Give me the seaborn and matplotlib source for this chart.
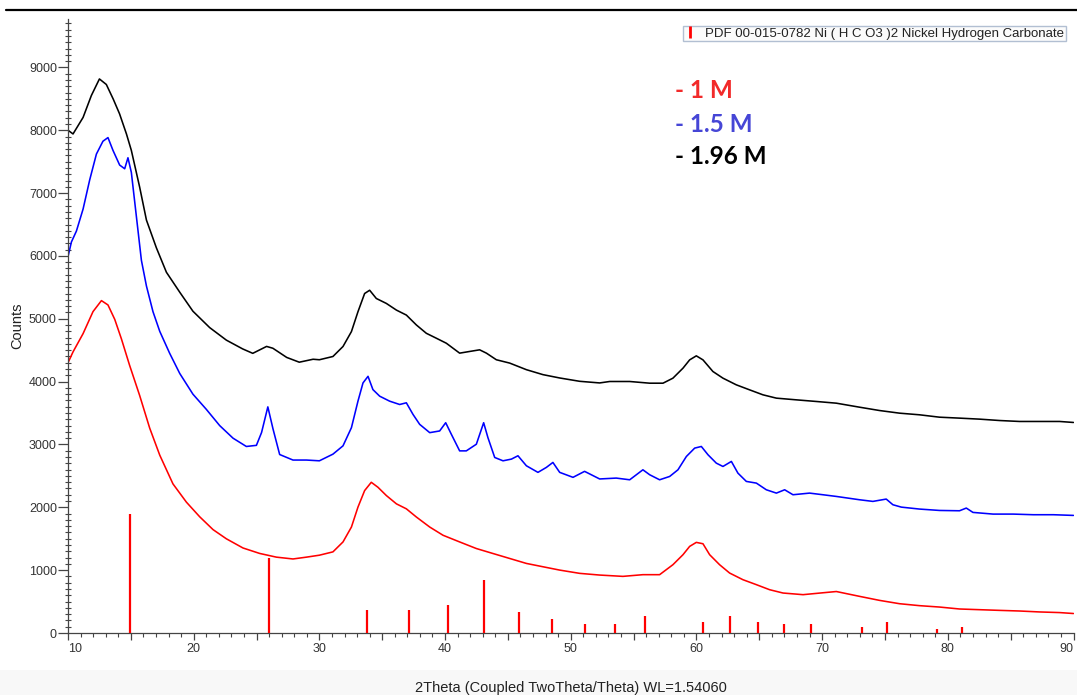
import matplotlib
matplotlib.use("Agg")
import matplotlib.pyplot as plt
import seaborn as sns
from matplotlib.lines import Line2D
from matplotlib.patches import Rectangle
from matplotlib.ticker import MultipleLocator, FuncFormatter

# ---------------- data ----------------
bk_t = [10.0, 10.4, 11.2, 11.86, 12.5, 13.05, 13.6, 14.1, 14.65, 15.04, 15.7, 16.24, 17.03, 17.83, 18.9,
        19.94, 21.27, 22.6, 23.9, 24.7, 25.8, 26.3, 27.4, 28.4, 29.5, 30.0, 31.08, 31.88, 32.55, 33.07,
        33.6, 34.0, 34.53, 35.33, 36.13, 36.92, 37.72, 38.51, 39.31, 40.1, 41.16, 41.96, 42.75, 43.29,
        44.08, 45.14, 46.47, 47.79, 49.12, 50.71, 52.3, 53.1, 54.69, 56.28, 57.34, 58.13, 58.93, 59.46,
        59.99, 60.52, 61.31, 62.11, 63.17, 64.23, 65.29, 66.36, 67.95, 69.54, 71.13, 72.98, 74.57, 76.16,
        77.75, 79.34, 80.93, 82.52, 84.12, 85.71, 87.3, 88.89, 90.0]
bk_v = [8000, 7941, 8204, 8553, 8816, 8728, 8495, 8262, 7941, 7679, 7096, 6571, 6130, 5740, 5420,
        5120, 4860, 4660, 4520, 4450, 4560, 4531, 4385, 4309, 4356, 4348, 4400, 4559, 4796, 5112,
        5402, 5454, 5323, 5244, 5138, 5059, 4901, 4769, 4690, 4611, 4453, 4480, 4506, 4453,
        4348, 4295, 4190, 4111, 4058, 4005, 3979, 4002, 4002, 3975, 3975, 4055, 4214, 4346,
        4410, 4346, 4161, 4055, 3949, 3869, 3790, 3737, 3710, 3684, 3657, 3593, 3540, 3498,
        3472, 3434, 3419, 3403, 3381, 3366, 3366, 3366, 3350]

bl_t = [10.0, 10.27, 10.67, 11.2, 11.73, 12.26, 12.78, 13.18, 13.58, 14.11, 14.51, 14.77, 15.04, 15.44,
        15.84, 16.24, 16.76, 17.3, 18.09, 18.89, 19.94, 21.0, 22.07, 23.13, 24.19, 24.99, 25.4, 25.9,
        26.31, 26.84, 27.9, 28.97, 30.0, 31.08, 31.88, 32.55, 33.07, 33.47, 33.87, 34.26, 34.8, 35.59,
        36.39, 36.92, 37.45, 37.98, 38.78, 39.57, 40.05, 40.5, 41.16, 41.69, 42.49, 43.07, 43.41, 43.95,
        44.61, 45.28, 45.8, 46.47, 47.39, 48.06, 48.58, 49.12, 50.18, 51.1, 52.3, 53.62, 54.69, 55.74,
        56.28, 57.07, 57.87, 58.53, 59.2, 59.86, 60.39, 60.92, 61.58, 62.11, 62.78, 63.3, 63.97, 64.77,
        65.56, 66.36, 67.02, 67.68, 69.0, 70.06, 71.13, 72.98, 74.04, 75.1, 75.63, 76.3, 77.75, 79.34,
        80.93, 81.47, 82.0, 83.6, 85.2, 86.8, 88.4, 90.0]
bl_v = [5988, 6221, 6396, 6746, 7213, 7621, 7825, 7883, 7679, 7446, 7387, 7562, 7329, 6629,
        5930, 5522, 5114, 4800, 4450, 4130, 3800, 3560, 3300, 3100, 2968, 2986, 3190, 3598,
        3248, 2840, 2752, 2752, 2740, 2846, 2978, 3267, 3689, 3979, 4084, 3873, 3768, 3689,
        3636, 3663, 3478, 3320, 3188, 3215, 3346, 3162, 2898, 2898, 3004, 3346, 3109, 2793,
        2740, 2767, 2820, 2661, 2556, 2635, 2714, 2556, 2477, 2572, 2451, 2465, 2438, 2597,
        2518, 2438, 2491, 2597, 2809, 2942, 2968, 2836, 2703, 2650, 2730, 2544, 2412, 2385,
        2279, 2226, 2279, 2200, 2226, 2200, 2173, 2120, 2094, 2131, 2041, 2003, 1972, 1950,
        1945, 1988, 1919, 1892, 1892, 1882, 1882, 1871]

rd_t = [10.0, 10.4, 11.2, 11.99, 12.66, 13.18, 13.72, 14.25, 14.9, 15.7, 16.5, 17.3, 18.35, 19.42,
        20.48, 21.54, 22.6, 23.92, 25.25, 26.58, 27.9, 28.97, 30.0, 31.08, 31.88, 32.55, 33.07, 33.6,
        34.13, 34.66, 35.33, 36.13, 36.92, 37.72, 38.78, 39.84, 41.16, 42.49, 43.81, 45.14, 46.47,
        47.79, 49.12, 50.71, 52.3, 54.15, 55.74, 57.07, 58.13, 58.93, 59.46, 59.99, 60.52, 61.05,
        61.84, 62.64, 63.7, 64.77, 65.82, 66.89, 68.48, 70.06, 71.13, 72.98, 74.57, 76.16, 77.75,
        79.34, 80.93, 82.52, 84.12, 85.71, 87.3, 88.89, 90.0]
rd_v = [4300, 4473, 4764, 5114, 5289, 5220, 4990, 4680, 4260, 3780, 3260, 2830, 2373, 2082,
        1849, 1645, 1499, 1353, 1266, 1207, 1178, 1207, 1238, 1291, 1449, 1686, 2003, 2266,
        2398, 2319, 2187, 2055, 1976, 1845, 1686, 1555, 1449, 1344, 1265, 1186, 1107,
        1054, 1001, 949, 922, 901, 928, 928, 1087, 1246, 1378, 1442, 1420, 1246,
        1087, 954, 848, 769, 689, 636, 610, 640, 660, 583, 519, 466, 435,
        413, 382, 371, 360, 350, 335, 325, 310]

# reference pattern PDF 00-015-0782
pdf_t = [14.9, 26.0, 33.8, 37.1, 40.2, 43.1, 45.9, 48.5, 51.1, 53.5, 55.9, 60.5, 62.7, 64.9,
         67.0, 69.1, 73.2, 75.2, 79.1, 81.1]
pdf_i = [1890, 1200, 370, 360, 450, 840, 330, 220, 150, 150, 270, 180, 270, 180,
         150, 150, 100, 180, 60, 100]

series_labels = ["- 1 M", "- 1.5 M", "- 1.96 M"]
series_colors = ["#ff0000", "#0000ff", "#000000"]
text_colors = ["#f22a2a", "#4646d6", "#000000"]
legend_label = "PDF 00-015-0782 Ni ( H C O3 )2 Nickel Hydrogen Carbonate"
x_label = "2Theta (Coupled TwoTheta/Theta) WL=1.54060"
y_label = "Counts"

# ---------------- plot ----------------
sns.set_theme(style="white")
plt.rcParams["font.family"] = ["Liberation Sans", "DejaVu Sans"]

W, H = 1077, 695
fig = plt.figure(figsize=(W / 100, H / 100), dpi=100)
fig.patch.set_facecolor("white")
ax = fig.add_axes([68 / W, 1 - 633 / H, (1073.5 - 68) / W, (633 - 19) / H])

# light band at the bottom of the page
fig.add_artist(Rectangle((0, 0), 1, 25 / H, transform=fig.transFigure,
                         facecolor="#f8f8f8", edgecolor="none", zorder=-10))
# top rule line
fig.add_artist(Line2D([6 / W, 1.0], [1 - 10 / H, 1 - 10 / H], transform=fig.transFigure,
                      color="black", lw=1.6))

for t, v, c in [(rd_t, rd_v, series_colors[0]), (bl_t, bl_v, series_colors[1]),
                (bk_t, bk_v, series_colors[2])]:
    sns.lineplot(x=t, y=v, ax=ax, color=c, lw=1.15, estimator=None, sort=False)

ax.vlines(pdf_t, 0, pdf_i, color="#ff0000", lw=1.6, zorder=3)

ax.set_xlim(10, 90)
ax.set_ylim(0, 9770)

for s in ["top", "right"]:
    ax.spines[s].set_visible(False)
for s in ["left", "bottom"]:
    ax.spines[s].set_color("#444444")
    ax.spines[s].set_linewidth(0.9)

ax.xaxis.set_major_locator(MultipleLocator(5))
ax.xaxis.set_minor_locator(MultipleLocator(1))
ax.xaxis.set_major_formatter(FuncFormatter(lambda v, p: f"{int(round(v))}" if int(round(v)) % 10 == 0 else ""))
ax.yaxis.set_major_locator(MultipleLocator(1000))
ax.yaxis.set_minor_locator(MultipleLocator(100))

ax.tick_params(axis="x", which="major", direction="out", length=5, width=0.9, color="#444444",
               labelsize=9, labelcolor="#333333", pad=2, bottom=True)
ax.tick_params(axis="x", which="minor", direction="out", length=3, width=0.8, color="#444444", bottom=True)
ax.tick_params(axis="y", which="major", direction="out", length=7, width=0.9, color="#444444",
               labelsize=9, labelcolor="#333333", pad=1, left=True)
ax.tick_params(axis="y", which="minor", direction="inout", length=4, width=0.8, color="#444444", left=True)

fig.canvas.draw()
for lbl in ax.get_xticklabels():
    if lbl.get_text() == "10":
        lbl.set_horizontalalignment("left")
    elif lbl.get_text() == "90":
        lbl.set_horizontalalignment("right")

ax.set_xlabel(x_label, fontsize=10.5, color="#222222", labelpad=19)
ax.set_ylabel(y_label, fontsize=10.5, color="#222222", labelpad=3)

# legend for the reference pattern
handle = Line2D([], [], color="#ff0000", marker="|", linestyle="None", markersize=8, mew=2)
leg = ax.legend([handle], [legend_label], loc="upper right", bbox_to_anchor=(1066 / W, 1 - 26 / H),
                bbox_transform=fig.transFigure, fontsize=9.5, frameon=True, fancybox=False,
                borderpad=0.12, handlelength=0.9, handletextpad=0.7, borderaxespad=0)
leg.get_frame().set_edgecolor("#9fb0c8")
leg.get_frame().set_linewidth(1.0)
leg.get_frame().set_facecolor("#fbfbfb")
for txt in leg.get_texts():
    txt.set_color("#222222")

# concentration labels
for lab, col, yy in zip(series_labels, text_colors, [90, 124, 157]):
    fig.text(675 / W, 1 - yy / H, lab, color=col, fontsize=17.5, fontweight="bold",
             va="center", ha="left", family=["Lato", "DejaVu Sans"])

fig.savefig("out.png", dpi=100, facecolor="white")
